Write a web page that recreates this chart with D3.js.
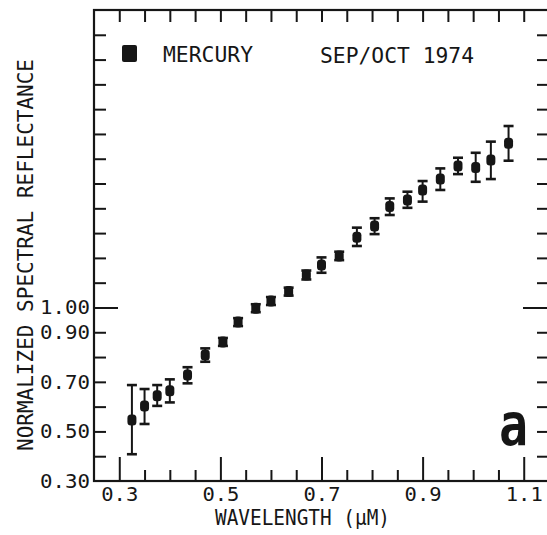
<!DOCTYPE html>
<html>
<head>
<meta charset="utf-8">
<script src="https://cdn.jsdelivr.net/npm/d3@7"></script>
<style>
  html, body { margin: 0; padding: 0; background: #fff; }
  svg { display: block; }
  text { font-family: "DejaVu Sans Mono", monospace; fill: #161616; }
</style>
</head>
<body>
<div id="chart"></div>
<script>
// Mercury normalized spectral reflectance, Sep/Oct 1974
const wavelength = [0.325, 0.350, 0.375, 0.400, 0.435, 0.470, 0.505, 0.535, 0.570, 0.600, 0.635, 0.670,
                    0.700, 0.735, 0.770, 0.805, 0.835, 0.870, 0.900, 0.935, 0.970, 1.005, 1.035, 1.070];
const reflectance = [0.546, 0.603, 0.644, 0.664, 0.728, 0.808, 0.861, 0.941, 0.997, 1.026, 1.064, 1.131,
                     1.171, 1.208, 1.283, 1.329, 1.407, 1.434, 1.474, 1.518, 1.571, 1.565, 1.595, 1.662];
const errLow  = [0.408, 0.530, 0.603, 0.617, 0.694, 0.781, 0.845, 0.925, 0.981, 1.010, 1.048, 1.113,
                 1.140, 1.191, 1.248, 1.296, 1.373, 1.402, 1.427, 1.474, 1.538, 1.507, 1.518, 1.592];
const errHigh = [0.687, 0.671, 0.687, 0.710, 0.759, 0.835, 0.877, 0.957, 1.013, 1.042, 1.080, 1.149,
                 1.202, 1.225, 1.322, 1.360, 1.440, 1.467, 1.510, 1.561, 1.604, 1.624, 1.669, 1.732];

const xMajorTicks = [0.3, 0.5, 0.7, 0.9, 1.1];
const xMinorTicks = [0.35, 0.4, 0.45, 0.55, 0.6, 0.65, 0.75, 0.8, 0.85, 0.95, 1.0, 1.05];
const xTopTicks = [0.3, 0.35, 0.4, 0.45, 0.5, 0.55, 0.6, 0.65, 0.7, 0.75, 0.8, 0.85, 0.9, 0.95, 1.0, 1.05, 1.1];
const yTicks = [0.4, 0.5, 0.6, 0.7, 0.8, 0.9, 1.0, 1.1, 1.2, 1.3, 1.4, 1.5, 1.6, 1.7, 1.8, 1.9, 2.0, 2.1];
const yTickLabels = [0.3, 0.5, 0.7, 0.9, 1.0];

const W = 547, H = 535;
const ink = "#161616";

const svg = d3.select("#chart").append("svg").attr("width", W).attr("height", H);

const x = d3.scaleLinear().domain([0.25, 1.15]).range([94, 549]);
const y = d3.scaleLinear().domain([0.3, 2.2]).range([481, 10]);

function styleTicks(g) {
  g.select(".domain").remove();
  g.selectAll(".tick line").attr("stroke", ink).attr("stroke-width", 2);
}

// frame
svg.append("rect")
  .attr("x", x(0.25)).attr("y", y(2.2))
  .attr("width", x(1.15) - x(0.25)).attr("height", y(0.3) - y(2.2))
  .attr("fill", "none").attr("stroke", ink).attr("stroke-width", 2.2);

// bottom axis: long ticks with labels, short minor ticks
const xb = svg.append("g").attr("transform", `translate(0,${y(0.3)})`)
  .call(d3.axisBottom(x).tickValues(xMajorTicks).tickSizeInner(-24).tickSizeOuter(0)
        .tickPadding(6).tickFormat(d3.format(".1f")))
  .call(styleTicks);
xb.selectAll("text").attr("font-size", 20).attr("textLength", 37).attr("lengthAdjust", "spacingAndGlyphs");

svg.append("g").attr("transform", `translate(0,${y(0.3)})`)
  .call(d3.axisBottom(x).tickValues(xMinorTicks).tickSizeInner(-11).tickSizeOuter(0).tickFormat(""))
  .call(styleTicks);

// top axis
svg.append("g").attr("transform", `translate(0,${y(2.2)})`)
  .call(d3.axisTop(x).tickValues(xTopTicks).tickSizeInner(-12).tickSizeOuter(0).tickFormat(""))
  .call(styleTicks);

// left axis ticks
svg.append("g").attr("transform", `translate(${x(0.25)},0)`)
  .call(d3.axisLeft(y).tickValues(yTicks).tickSizeInner(-12).tickSizeOuter(0).tickFormat(""))
  .call(styleTicks);
svg.append("g").attr("transform", `translate(${x(0.25)},0)`)
  .call(d3.axisLeft(y).tickValues([1.0]).tickSizeInner(-24).tickSizeOuter(0).tickFormat(""))
  .call(styleTicks);
const yl = svg.append("g").attr("transform", `translate(${x(0.25)},0)`)
  .call(d3.axisLeft(y).tickValues(yTickLabels).tickSize(0).tickPadding(4).tickFormat(d3.format(".2f")))
  .call(styleTicks);
yl.selectAll("text").attr("font-size", 20).attr("textLength", 50).attr("lengthAdjust", "spacingAndGlyphs");

// right axis ticks
svg.append("g").attr("transform", `translate(${x(1.15)},0)`)
  .call(d3.axisRight(y).tickValues(yTicks).tickSizeInner(-12).tickSizeOuter(0).tickFormat(""))
  .call(styleTicks);
svg.append("g").attr("transform", `translate(${x(1.15)},0)`)
  .call(d3.axisRight(y).tickValues([1.0]).tickSizeInner(-26).tickSizeOuter(0).tickFormat(""))
  .call(styleTicks);

// axis titles
svg.append("text")
  .attr("transform", "translate(33,255) rotate(-90)")
  .attr("text-anchor", "middle")
  .attr("font-size", 21)
  .attr("textLength", 392).attr("lengthAdjust", "spacingAndGlyphs")
  .text("NORMALIZED SPECTRAL REFLECTANCE");

svg.append("text")
  .attr("x", 215).attr("y", 525)
  .attr("font-size", 21)
  .attr("textLength", 175).attr("lengthAdjust", "spacingAndGlyphs")
  .text("WAVELENGTH (μM)");

// legend
svg.append("rect")
  .attr("x", 122).attr("y", 45).attr("width", 15).attr("height", 17).attr("rx", 2)
  .attr("fill", ink);
svg.append("text")
  .attr("x", 163).attr("y", 62).attr("font-size", 22)
  .attr("textLength", 90).attr("lengthAdjust", "spacingAndGlyphs")
  .text("MERCURY");
svg.append("text")
  .attr("x", 320).attr("y", 63).attr("font-size", 22)
  .attr("textLength", 154).attr("lengthAdjust", "spacingAndGlyphs")
  .text("SEP/OCT 1974");

// panel letter
svg.append("text")
  .attr("x", 499).attr("y", 445)
  .attr("font-family", "Liberation Sans, Arial, sans-serif")
  .attr("font-weight", "bold").attr("font-size", 58)
  .attr("textLength", 29).attr("lengthAdjust", "spacingAndGlyphs")
  .text("a");

// data with error bars
const pts = wavelength.map((w, i) => ({ w, r: reflectance[i], lo: errLow[i], hi: errHigh[i] }));
const g = svg.append("g");
const pg = g.selectAll("g.pt").data(pts).join("g").attr("class", "pt");

pg.append("line")
  .attr("x1", d => x(d.w)).attr("x2", d => x(d.w))
  .attr("y1", d => y(d.lo)).attr("y2", d => y(d.hi))
  .attr("stroke", ink).attr("stroke-width", 2);
pg.append("line")
  .attr("x1", d => x(d.w) - 5).attr("x2", d => x(d.w) + 5)
  .attr("y1", d => y(d.hi)).attr("y2", d => y(d.hi))
  .attr("stroke", ink).attr("stroke-width", 2.6);
pg.append("line")
  .attr("x1", d => x(d.w) - 5).attr("x2", d => x(d.w) + 5)
  .attr("y1", d => y(d.lo)).attr("y2", d => y(d.lo))
  .attr("stroke", ink).attr("stroke-width", 2.6);
pg.append("rect")
  .attr("x", d => x(d.w) - 4.5).attr("y", d => y(d.r) - 5.5)
  .attr("width", 9).attr("height", 11).attr("rx", 3.5)
  .attr("fill", ink);
</script>
</body>
</html>
